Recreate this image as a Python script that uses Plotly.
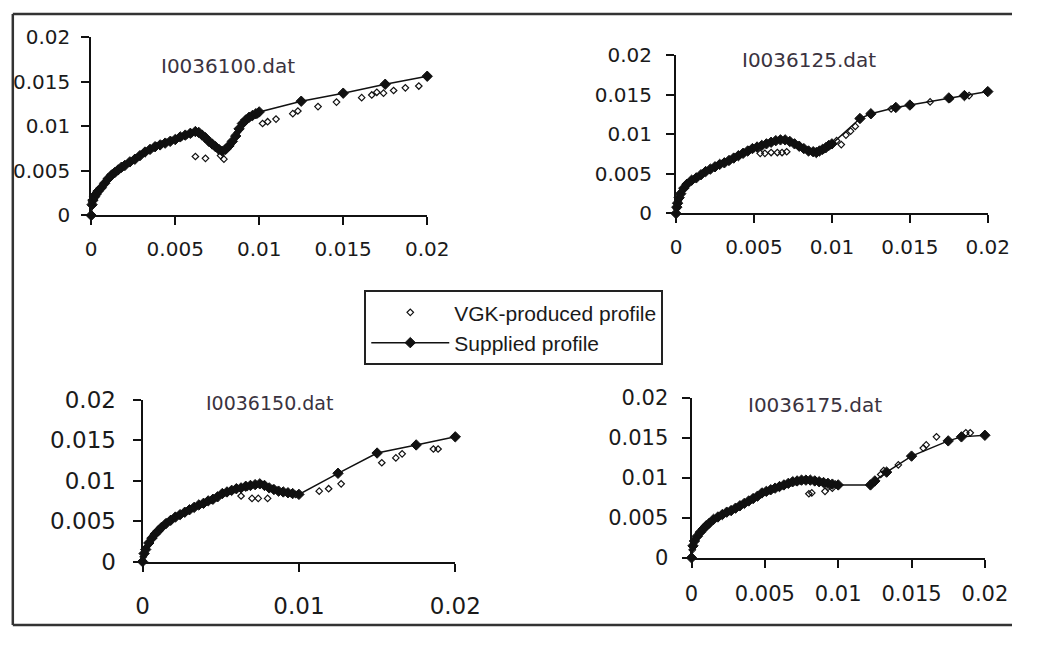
import plotly.graph_objects as go

# page offset compensation: the figure is drawn 8 px in from the page corner
OFF = 8
W, H = 1054 - 2 * OFF, 653 - 2 * OFF


def fx(p):
    return (p - OFF) / W


def fy(p):
    return 1 - (p - OFF) / H


# ---------------- data ----------------
titles = ["I0036100.dat", "I0036125.dat", "I0036150.dat", "I0036175.dat"]
legend_names = ["VGK-produced profile", "Supplied profile"]

# Panel 1 : I0036100.dat
sup1_x = [0, 0.00005, 0.0001, 0.0002, 0.0003, 0.0004, 0.0006, 0.0008, 0.001, 0.0012, 0.0014, 0.0016, 0.0018,
          0.002, 0.0023, 0.0026, 0.0029, 0.0032, 0.0035, 0.0038, 0.0041, 0.0044, 0.0047, 0.005, 0.0053, 0.0056,
          0.0059, 0.0062, 0.0064, 0.0066, 0.0068, 0.007, 0.0072, 0.0074, 0.0076, 0.0078, 0.008, 0.0082, 0.0084,
          0.0086, 0.0088, 0.009, 0.0092, 0.0094, 0.0096, 0.0098, 0.01, 0.0125, 0.015, 0.0175, 0.02]
sup1_y = [0, 0.0012, 0.0017, 0.0021, 0.0024, 0.0027, 0.0031, 0.0036, 0.0041, 0.0045, 0.0048, 0.0051, 0.0054,
          0.0056, 0.0060, 0.0063, 0.0067, 0.0071, 0.0074, 0.0077, 0.0079, 0.0081, 0.0083, 0.0085, 0.0088, 0.0090,
          0.0092, 0.0094, 0.0093, 0.0090, 0.0087, 0.0083, 0.0080, 0.0077, 0.0074, 0.0072, 0.0074, 0.0078, 0.0083,
          0.0089, 0.0097, 0.0103, 0.0107, 0.0110, 0.0112, 0.0114, 0.0116, 0.0128, 0.0137, 0.0147, 0.0156]
vgk1_x = [0.00003, 0.00015, 0.0003, 0.0005, 0.0007, 0.0009, 0.0011, 0.0013, 0.0015, 0.0017, 0.0019, 0.0022,
          0.0025, 0.0028, 0.0031, 0.0034, 0.0037, 0.0039, 0.0042, 0.0045, 0.0048, 0.0051, 0.0054, 0.0057, 0.006,
          0.0062, 0.0068, 0.0077, 0.0079, 0.0083, 0.0087, 0.0091, 0.0095, 0.0099, 0.0102, 0.0105, 0.011, 0.012,
          0.0123, 0.0135, 0.0146, 0.0161, 0.0167, 0.017, 0.0174, 0.018, 0.0187, 0.0195, 0.02]
vgk1_y = [0.0015, 0.0019, 0.0023, 0.0029, 0.0034, 0.0039, 0.0043, 0.0047, 0.0050, 0.0052, 0.0055, 0.0059,
          0.0062, 0.0066, 0.0070, 0.0073, 0.0076, 0.0078, 0.0080, 0.0082, 0.0084, 0.0086, 0.0088, 0.0090, 0.0092,
          0.0066, 0.0064, 0.0067, 0.0063, 0.0080, 0.0093, 0.0104, 0.0110, 0.0113, 0.0103, 0.0105, 0.0108, 0.0114,
          0.0117, 0.0122, 0.0127, 0.0132, 0.0135, 0.0138, 0.0137, 0.0140, 0.0143, 0.0145, 0.0155]

# Panel 2 : I0036125.dat
sup2_x = [0, 0.00005, 0.0001, 0.0002, 0.0003, 0.0005, 0.0007, 0.001, 0.0013, 0.0016, 0.0019, 0.0022, 0.0025,
          0.0028, 0.0031, 0.0034, 0.0037, 0.004, 0.0043, 0.0046, 0.0049, 0.0052, 0.0055, 0.0058, 0.0061, 0.0064,
          0.0067, 0.007, 0.0073, 0.0076, 0.0079, 0.0082, 0.0085, 0.0088, 0.009, 0.0092, 0.0094, 0.0096, 0.0098,
          0.01, 0.0118, 0.0125, 0.0141, 0.015, 0.0175, 0.0185, 0.02]
sup2_y = [0, 0.0008, 0.0013, 0.0020, 0.0025, 0.0032, 0.0037, 0.0042, 0.0045, 0.0049, 0.0053, 0.0056, 0.0059,
          0.0062, 0.0064, 0.0067, 0.0070, 0.0073, 0.0076, 0.0079, 0.0082, 0.0084, 0.0086, 0.0088, 0.0090, 0.0092,
          0.0093, 0.0093, 0.0091, 0.0088, 0.0085, 0.0082, 0.0079, 0.0078, 0.0077, 0.0079, 0.0081, 0.0083, 0.0086,
          0.0088, 0.0120, 0.0126, 0.0134, 0.0137, 0.0146, 0.0149, 0.0154]
vgk2_x = [0.00003, 0.00015, 0.0004, 0.0006, 0.0008, 0.0011, 0.0014, 0.0017, 0.002, 0.0023, 0.0026, 0.0029,
          0.0032, 0.0035, 0.0038, 0.0041, 0.0044, 0.0047, 0.005, 0.0054, 0.0057, 0.0061, 0.0065, 0.0068, 0.0071,
          0.0074, 0.0078, 0.0081, 0.0084, 0.0087, 0.0091, 0.0095, 0.0099, 0.0103, 0.0106, 0.0109, 0.0112, 0.0115,
          0.0125, 0.0138, 0.0151, 0.0163, 0.0176, 0.0188, 0.02]
vgk2_y = [0.0006, 0.0016, 0.0029, 0.0034, 0.0039, 0.0043, 0.0046, 0.0050, 0.0054, 0.0057, 0.0060, 0.0063,
          0.0065, 0.0068, 0.0071, 0.0074, 0.0077, 0.0080, 0.0082, 0.0076, 0.0076, 0.0077, 0.0077, 0.0077, 0.0078,
          0.0090, 0.0086, 0.0083, 0.0080, 0.0078, 0.0078, 0.0081, 0.0086, 0.0092, 0.0087, 0.0099, 0.0104, 0.0110,
          0.0125, 0.0132, 0.0137, 0.0141, 0.0145, 0.0149, 0.0155]

# Panel 3 : I0036150.dat
sup3_x = [0, 0.0001, 0.0002, 0.0004, 0.0006, 0.0008, 0.001, 0.0012, 0.0015, 0.0018, 0.0021, 0.0024, 0.0027,
          0.003, 0.0033, 0.0036, 0.0039, 0.0042, 0.0045, 0.0048, 0.0051, 0.0054, 0.0057, 0.006, 0.0063, 0.0066,
          0.0069, 0.0072, 0.0075, 0.0078, 0.0081, 0.0084, 0.0087, 0.009, 0.0093, 0.0096, 0.01, 0.0125, 0.015,
          0.0175, 0.02]
sup3_y = [0, 0.0010, 0.0015, 0.0023, 0.0029, 0.0034, 0.0038, 0.0042, 0.0047, 0.0051, 0.0055, 0.0058, 0.0061,
          0.0064, 0.0067, 0.0070, 0.0072, 0.0075, 0.0077, 0.0080, 0.0084, 0.0086, 0.0088, 0.0090, 0.0091, 0.0093,
          0.0094, 0.0095, 0.0096, 0.0094, 0.0091, 0.0089, 0.0087, 0.0086, 0.0085, 0.0084, 0.0083, 0.0109, 0.0134,
          0.0144, 0.0154]
vgk3_x = [0.00005, 0.0003, 0.0005, 0.0007, 0.0009, 0.0011, 0.0014, 0.0017, 0.002, 0.0023, 0.0026, 0.0029,
          0.0032, 0.0035, 0.0038, 0.0041, 0.0044, 0.0047, 0.005, 0.0053, 0.0056, 0.0059, 0.0063, 0.0067, 0.007,
          0.0074, 0.0077, 0.008, 0.0083, 0.0086, 0.0089, 0.0092, 0.0095, 0.0098, 0.0113, 0.0119, 0.0127, 0.0153,
          0.0162, 0.0166, 0.0186, 0.0189]
vgk3_y = [0.0006, 0.0019, 0.0026, 0.0032, 0.0036, 0.0040, 0.0045, 0.0050, 0.0054, 0.0057, 0.0060, 0.0063,
          0.0066, 0.0069, 0.0071, 0.0074, 0.0076, 0.0079, 0.0083, 0.0085, 0.0087, 0.0089, 0.0081, 0.0092, 0.0078,
          0.0078, 0.0095, 0.0078, 0.0090, 0.0088, 0.0086, 0.0085, 0.0084, 0.0083, 0.0087, 0.0090, 0.0096, 0.0122,
          0.0128, 0.0133, 0.0139, 0.0139]

# Panel 4 : I0036175.dat
sup4_x = [0, 0.0001, 0.0002, 0.0004, 0.0006, 0.0008, 0.001, 0.0012, 0.0015, 0.0018, 0.0021, 0.0024, 0.0027,
          0.003, 0.0033, 0.0036, 0.0039, 0.0042, 0.0045, 0.0048, 0.0051, 0.0054, 0.0057, 0.006, 0.0063, 0.0066,
          0.0069, 0.0072, 0.0075, 0.0078, 0.0081, 0.0084, 0.0087, 0.009, 0.0093, 0.0096, 0.01, 0.0122, 0.0125,
          0.0133, 0.015, 0.0175, 0.0184, 0.02]
sup4_y = [0, 0.0015, 0.0021, 0.0027, 0.0032, 0.0036, 0.0040, 0.0043, 0.0048, 0.0051, 0.0054, 0.0057, 0.0059,
          0.0062, 0.0065, 0.0068, 0.0071, 0.0074, 0.0077, 0.0081, 0.0083, 0.0085, 0.0087, 0.0089, 0.0091, 0.0093,
          0.0095, 0.0096, 0.0097, 0.0097, 0.0097, 0.0096, 0.0095, 0.0094, 0.0093, 0.0092, 0.0091, 0.0091, 0.0096,
          0.0107, 0.0127, 0.0146, 0.0151, 0.0153]
vgk4_x = [0.00005, 0.0003, 0.0005, 0.0007, 0.0009, 0.0011, 0.0014, 0.0017, 0.002, 0.0023, 0.0026, 0.0029,
          0.0032, 0.0035, 0.0038, 0.0041, 0.0044, 0.0047, 0.005, 0.0053, 0.0056, 0.0059, 0.0062, 0.0065, 0.0068,
          0.0071, 0.0074, 0.0077, 0.008, 0.0082, 0.0085, 0.0088, 0.0091, 0.0093, 0.0096, 0.0098, 0.0129, 0.0131,
          0.0141, 0.0158, 0.016, 0.0167, 0.0187, 0.019]
vgk4_y = [0.0010, 0.0024, 0.0030, 0.0034, 0.0038, 0.0041, 0.0046, 0.0050, 0.0053, 0.0056, 0.0058, 0.0061,
          0.0064, 0.0067, 0.0070, 0.0073, 0.0076, 0.0079, 0.0082, 0.0084, 0.0086, 0.0088, 0.0090, 0.0092, 0.0094,
          0.0095, 0.0096, 0.0097, 0.0080, 0.0081, 0.0096, 0.0095, 0.0083, 0.0088, 0.0087, 0.0092, 0.0104, 0.0109,
          0.0116, 0.0137, 0.0141, 0.0151, 0.0156, 0.0156]

x_ticks_4 = [0, 0.005, 0.01, 0.015, 0.02]
x_ticklabels_4 = ["0", "0.005", "0.01", "0.015", "0.02"]
x_ticks_3 = [0, 0.01, 0.02]
x_ticklabels_3 = ["0", "0.01", "0.02"]
y_ticks = [0, 0.005, 0.01, 0.015, 0.02]
y_ticklabels = ["0", "0.005", "0.01", "0.015", "0.02"]

sup_x = [sup1_x, sup2_x, sup3_x, sup4_x]
sup_y = [sup1_y, sup2_y, sup3_y, sup4_y]
vgk_x = [vgk1_x, vgk2_x, vgk3_x, vgk4_x]
vgk_y = [vgk1_y, vgk2_y, vgk3_y, vgk4_y]

# ---------------- layout (page-pixel boxes of plot areas) ----------------
# (left, right, top, bottom)
boxes = [(95, 442, 33, 219), (699, 1021, 52, 217), (148, 471, 411, 580), (715, 1018, 409, 576)]
tick_fonts = [20, 20, 23, 21]
x_standoff = [7, 7, 15, 8]
y_standoff = [7, 10, 12, 9]
title_pos = [(236, 63), (836, 57), (279, 415), (843, 417)]
title_font = [20, 20, 19, 20]

FONT = "DejaVu Sans, Verdana, sans-serif"
LFONT = "Liberation Sans, Arial, sans-serif"

fig = go.Figure()
layout = dict(width=W, height=H, margin=dict(l=0, r=0, t=0, b=0, pad=0), autosize=False,
              paper_bgcolor="white", plot_bgcolor="white",
              font=dict(family=FONT, color="#1a1a1a"), showlegend=True)

annotations = []
for i in range(4):
    ax = "" if i == 0 else str(i + 1)
    l, r, t, b = boxes[i]
    xt = x_ticks_3 if i == 2 else x_ticks_4
    xtl = x_ticklabels_3 if i == 2 else x_ticklabels_4
    common = dict(showgrid=False, zeroline=False, showline=True, linecolor="#111", linewidth=2,
                  ticks="outside", ticklen=8, tickwidth=2, tickcolor="#111",
                  tickfont=dict(size=tick_fonts[i], family=FONT, color="#1a1a1a"),
                  range=[0, 0.02], fixedrange=True)
    layout["xaxis" + ax] = dict(common, domain=[fx(l), fx(r)], anchor="y" + ax,
                                tickvals=xt, ticktext=xtl, ticklabelstandoff=x_standoff[i])
    layout["yaxis" + ax] = dict(common, domain=[fy(b), fy(t)], anchor="x" + ax,
                                tickvals=y_ticks, ticktext=y_ticklabels, ticklabelstandoff=y_standoff[i])
    fig.add_trace(go.Scatter(x=sup_x[i], y=sup_y[i], mode="lines+markers", name=legend_names[1],
                             xaxis="x" + ax, yaxis="y" + ax, showlegend=(i == 0), legendrank=2,
                             line=dict(color="#111", width=1.5),
                             marker=dict(symbol="diamond", size=8, color="#111",
                                         line=dict(color="#111", width=1)),
                             cliponaxis=False))
    fig.add_trace(go.Scatter(x=vgk_x[i], y=vgk_y[i], mode="markers", name=legend_names[0],
                             xaxis="x" + ax, yaxis="y" + ax, showlegend=(i == 0), legendrank=1,
                             marker=dict(symbol="diamond-open", size=5, color="#111",
                                         line=dict(color="#111", width=1.2)),
                             cliponaxis=False))
    tx, ty = title_pos[i]
    annotations.append(dict(text=titles[i], x=fx(tx), y=fy(ty), xref="paper", yref="paper",
                            xanchor="center", yanchor="middle", showarrow=False,
                            font=dict(size=title_font[i], family=FONT, color="#3a3340")))

layout["annotations"] = annotations
layout["legend"] = dict(x=fx(377), y=fy(297), xanchor="left", yanchor="top",
                        bordercolor="#222", borderwidth=2, bgcolor="white",
                        font=dict(size=21, family=LFONT, color="#1a1a1a"),
                        itemwidth=78, tracegroupgap=0, traceorder="normal")
frame = dict(xref="paper", yref="paper", type="line", layer="below")
layout["shapes"] = [
    dict(frame, x0=fx(14), x1=fx(14), y0=fy(646), y1=fy(9), line=dict(color="#333", width=2.5)),
    dict(frame, x0=fx(14), x1=1, y0=fy(9), y1=fy(9), line=dict(color="#333", width=2.5)),
    dict(frame, x0=fx(14), x1=1, y0=fy(646), y1=fy(646), line=dict(color="#333", width=2.5)),
]
fig.update_layout(**layout)
fig.write_html("out.html")
